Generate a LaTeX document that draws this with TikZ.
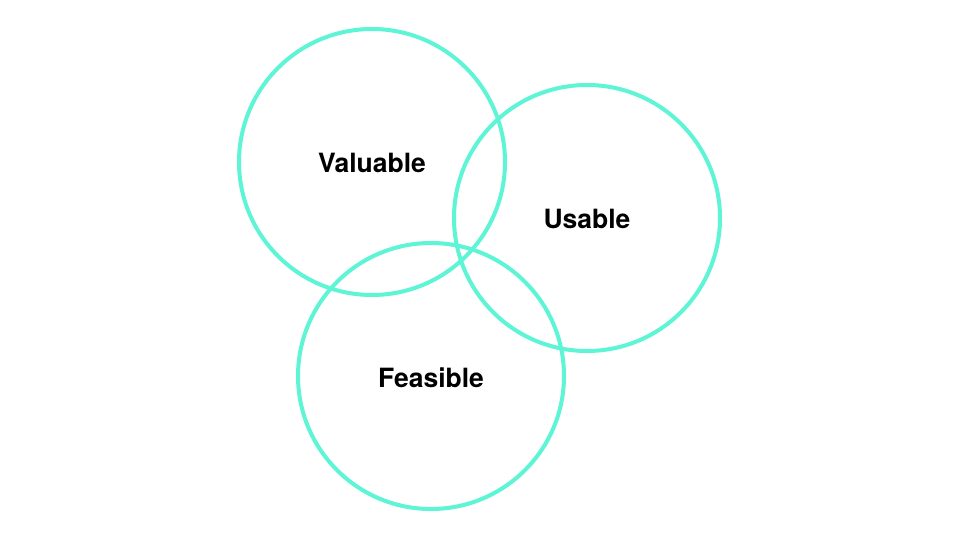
\documentclass[tikz,border=0pt]{standalone}
\usepackage{fontspec}
\setmainfont{TeX Gyre Heros}
\definecolor{aqua}{RGB}{94,245,214}
\begin{document}
\begin{tikzpicture}[x=1pt,y=-1pt,
  ring/.style={draw=aqua,line width=4pt,circle,minimum size=266pt,inner sep=0pt},
  lbl/.style={font=\fontsize{26.5}{30}\selectfont\bfseries,text=black}]
\useasboundingbox[fill=white] (0,0) rectangle (960,540);
\node[ring] (val) at (372,162) {};
\node[ring] (usa) at (587,218) {};
\node[ring] (fea) at (431,376) {};
\node[lbl] (tval) at (372,163) {Valuable};
\node[lbl] (tusa) at (587,219) {Usable};
\node[lbl] (tfea) at (431,378) {Feasible};
\end{tikzpicture}
\end{document}
